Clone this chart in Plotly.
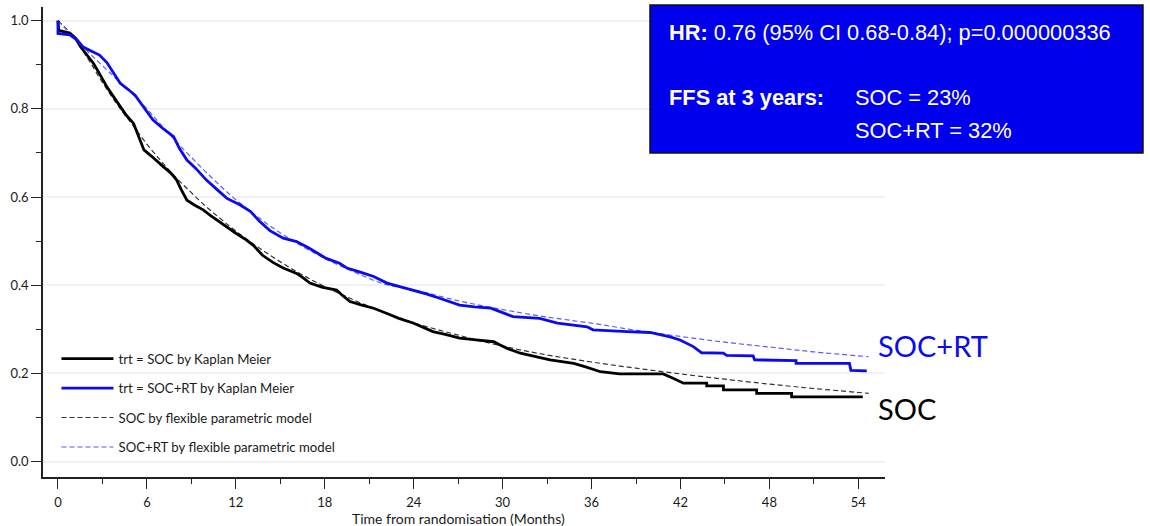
import plotly.graph_objects as go

# Kaplan-Meier estimate, standard of care (SOC): polyline through the curve,
# with explicit corners where the late steps become visible
soc_km_t = [0, 0.05, 0.8, 1.2, 1.5, 2.0, 2.4, 2.8, 3.3, 3.7, 4.2, 4.6, 5.1, 5.4, 5.8, 6.3,
            6.7, 7.1, 7.6, 8.0, 8.3, 8.7, 9.2, 9.8, 10.3, 10.8, 11.4, 12.0, 12.7, 13.2,
            13.8, 14.5, 15.2, 16.1, 16.5, 17.0, 17.8, 18.8, 19.2, 19.7, 20.5, 21.3, 22.2,
            23.0, 24.0, 24.6, 25.3, 26.2, 27.1, 28.2, 29.4, 29.8, 30.3, 31.2, 32.2, 33.2,
            34.0, 34.8, 35.6, 36.6, 37.9, 40.84, 41.5, 42.2, 43.77, 43.77, 44.9, 44.9,
            47.14, 47.14, 49.5, 49.5, 54.3]
soc_km_s = [1.0, 0.978, 0.972, 0.96, 0.942, 0.92, 0.903, 0.88, 0.85, 0.83, 0.805, 0.786,
            0.767, 0.74, 0.707, 0.693, 0.682, 0.669, 0.655, 0.639, 0.618, 0.593, 0.582,
            0.571, 0.558, 0.546, 0.533, 0.518, 0.503, 0.49, 0.468, 0.452, 0.439, 0.427,
            0.418, 0.405, 0.396, 0.389, 0.377, 0.363, 0.355, 0.348, 0.336, 0.325, 0.314,
            0.305, 0.295, 0.288, 0.28, 0.276, 0.272, 0.265, 0.257, 0.246, 0.238, 0.231,
            0.227, 0.223, 0.215, 0.204, 0.199, 0.199, 0.189, 0.178, 0.178, 0.172, 0.172,
            0.163, 0.163, 0.155, 0.155, 0.147, 0.147]

# Kaplan-Meier estimate, SOC plus radiotherapy
rt_km_t = [0, 0, 0.8, 1.3, 1.7, 2.3, 2.8, 3.3, 3.8, 4.2, 4.7, 5.2, 5.8, 6.4, 7.1, 7.8,
           8.2, 8.7, 9.3, 10.0, 10.7, 11.4, 12.3, 13.0, 13.6, 14.3, 15.2, 16.1, 16.9, 17.5,
           18.1, 19.0, 19.5, 20.4, 21.3, 22.2, 23.1, 24.0, 24.9, 25.8, 27.1, 28.1, 29.2,
           30.0, 30.7, 32.5, 33.7, 35.7, 36.1, 38.4, 39.95, 41.3, 41.97, 42.87, 43.43,
           44.89, 45.12, 46.9, 47.0, 49.8, 49.8, 53.4, 53.5, 54.57]
rt_km_s = [1.0, 0.971, 0.968, 0.956, 0.94, 0.93, 0.922, 0.905, 0.878, 0.858, 0.845, 0.831,
           0.803, 0.775, 0.755, 0.737, 0.71, 0.684, 0.665, 0.639, 0.618, 0.597, 0.582,
           0.567, 0.545, 0.524, 0.507, 0.499, 0.485, 0.472, 0.461, 0.45, 0.439, 0.43, 0.42,
           0.405, 0.397, 0.389, 0.38, 0.37, 0.355, 0.351, 0.348, 0.338, 0.329, 0.325,
           0.314, 0.306, 0.299, 0.295, 0.293, 0.283, 0.276, 0.261, 0.247, 0.246, 0.241,
           0.240, 0.231, 0.229, 0.223, 0.223, 0.207, 0.206]

# Flexible parametric model predictions
soc_fpm_t = [0, 1, 2, 3, 4, 5, 6, 7, 8, 9, 10, 11, 12, 14, 16, 18, 20, 22, 24, 27, 30,
             33, 36, 39, 42, 45, 48, 51, 54.7]
soc_fpm_s = [1.0, 0.965, 0.915, 0.86, 0.81, 0.765, 0.72, 0.68, 0.643, 0.61, 0.578, 0.55,
             0.523, 0.475, 0.433, 0.397, 0.366, 0.339, 0.315, 0.287, 0.262, 0.242, 0.226,
             0.212, 0.199, 0.187, 0.176, 0.166, 0.155]
rt_fpm_t = [0, 1, 2, 3, 4, 5, 6, 7, 8, 9, 10, 11, 12, 14, 16, 18, 20, 22, 24, 27, 30,
            33, 36, 39, 42, 45, 48, 51, 54.7]
rt_fpm_s = [1.0, 0.965, 0.93, 0.898, 0.866, 0.835, 0.8, 0.762, 0.725, 0.69, 0.656, 0.624,
            0.594, 0.542, 0.498, 0.461, 0.43, 0.403, 0.39, 0.365, 0.345, 0.328, 0.314,
            0.298, 0.284, 0.271, 0.26, 0.249, 0.238]

x_ticks = [0, 6, 12, 18, 24, 30, 36, 42, 48, 54]
y_ticks = [0.0, 0.2, 0.4, 0.6, 0.8, 1.0]

legend_names = ["trt = SOC by Kaplan Meier", "trt = SOC+RT by Kaplan Meier",
                "SOC by flexible parametric model", "SOC+RT by flexible parametric model"]

BLUE = "#0a0af0"
SANS = "Lato, 'Open Sans', sans-serif"
LEG_FONT = dict(family=SANS, size=13.2, color="#1a1a1a")

fig = go.Figure()
fig.add_trace(go.Scatter(x=soc_fpm_t, y=soc_fpm_s, mode="lines", name=legend_names[2],
                         line=dict(color="#333333", width=1.2, dash="5px,3px", shape="spline"),
                         legendgroup="c", legendrank=3))
fig.add_trace(go.Scatter(x=rt_fpm_t, y=rt_fpm_s, mode="lines", name=legend_names[3],
                         line=dict(color="#5a5aff", width=1.2, dash="5px,3px", shape="spline"),
                         legendgroup="d", legendrank=4))
fig.add_trace(go.Scatter(x=soc_km_t, y=soc_km_s, mode="lines", name=legend_names[0],
                         line=dict(color="#000000", width=2.8),
                         legendgroup="a", legendrank=1))
fig.add_trace(go.Scatter(x=rt_km_t, y=rt_km_s, mode="lines", name=legend_names[1],
                         line=dict(color=BLUE, width=2.8),
                         legendgroup="b", legendrank=2))

fig.update_layout(
    width=1150, height=526,
    margin=dict(l=43, r=265, t=7, b=49),
    paper_bgcolor="white", plot_bgcolor="white",
    showlegend=True,
    legend=dict(x=0.016, y=0.284, xanchor="left", yanchor="top", bgcolor="rgba(0,0,0,0)",
                font=LEG_FONT, traceorder="grouped", tracegroupgap=9.3, itemwidth=52),
    font=dict(family=SANS, color="#1a1a1a"),
)

axis_font = dict(family=SANS, size=13, color="#1a1a1a")
fig.update_xaxes(range=[-1.01, 55.8], tickvals=x_ticks, ticktext=[str(v) for v in x_ticks],
                 ticks="outside", ticklen=10, tickwidth=1.3, tickcolor="#222",
                 showline=True, linecolor="#222", linewidth=1.5, showgrid=False,
                 zeroline=False, tickfont=axis_font, ticklabelstandoff=3,
                 minor=dict(dtick=3, tick0=0, ticks="outside", ticklen=5, tickwidth=1.2,
                            tickcolor="#222", showgrid=False))
fig.update_yaxes(range=[-0.0347, 1.031], tickvals=y_ticks,
                 ticktext=[f"{v:.1f}" for v in y_ticks],
                 ticks="outside", ticklen=10, tickwidth=1.3, tickcolor="#222",
                 showline=True, linecolor="#222", linewidth=1.5, showgrid=True,
                 gridcolor="#f1f1f1", gridwidth=1.5, zeroline=False, tickfont=axis_font,
                 minor=dict(dtick=0.1, tick0=0, ticks="outside", ticklen=5, tickwidth=1.2,
                            tickcolor="#222", showgrid=False))

# x-axis title
fig.add_annotation(x=27, y=0, xref="x", yref="paper", yshift=-41, yanchor="middle",
                   text="Time from randomisation (Months)", showarrow=False,
                   font=dict(family=SANS, size=14, color="#1a1a1a"))

# Summary box
fig.add_shape(type="rect", xref="paper", yref="paper", x0=0.7209, x1=1.3064, y0=0.6894,
              y1=1.0043, fillcolor="#0000ee", line=dict(color="#111", width=1.5), layer="above")
box_font = dict(family="'Liberation Sans', Arial, sans-serif", size=21.8, color="white")
fig.add_annotation(xref="paper", yref="paper", x=0.7411, y=(477 - 33) / 470, xanchor="left",
                   yanchor="middle", showarrow=False, font=box_font,
                   text="<b>HR:</b> 0.76 (95% CI 0.68-0.84); p=0.000000336")
fig.add_annotation(xref="paper", yref="paper", x=0.7411, y=(477 - 97) / 470, xanchor="left",
                   yanchor="middle", showarrow=False, font=box_font,
                   text="<b>FFS at 3 years:</b>")
fig.add_annotation(xref="paper", yref="paper", x=(853 - 43) / 842, y=(477 - 97) / 470,
                   xanchor="left", yanchor="middle", showarrow=False, font=box_font,
                   text="SOC = 23%")
fig.add_annotation(xref="paper", yref="paper", x=(853 - 43) / 842, y=(477 - 130) / 470,
                   xanchor="left", yanchor="middle", showarrow=False, font=box_font,
                   text="SOC+RT = 32%")

# Curve labels at the right end
fig.add_annotation(xref="paper", yref="paper", x=(876 - 43) / 842, y=(477 - 345) / 470,
                   xanchor="left", yanchor="middle", showarrow=False, text="SOC+RT",
                   font=dict(family=SANS, size=29, color=BLUE))
fig.add_annotation(xref="paper", yref="paper", x=(876 - 43) / 842, y=(477 - 408) / 470,
                   xanchor="left", yanchor="middle", showarrow=False, text="SOC",
                   font=dict(family=SANS, size=29, color="#000"))

fig.write_html("out.html")
